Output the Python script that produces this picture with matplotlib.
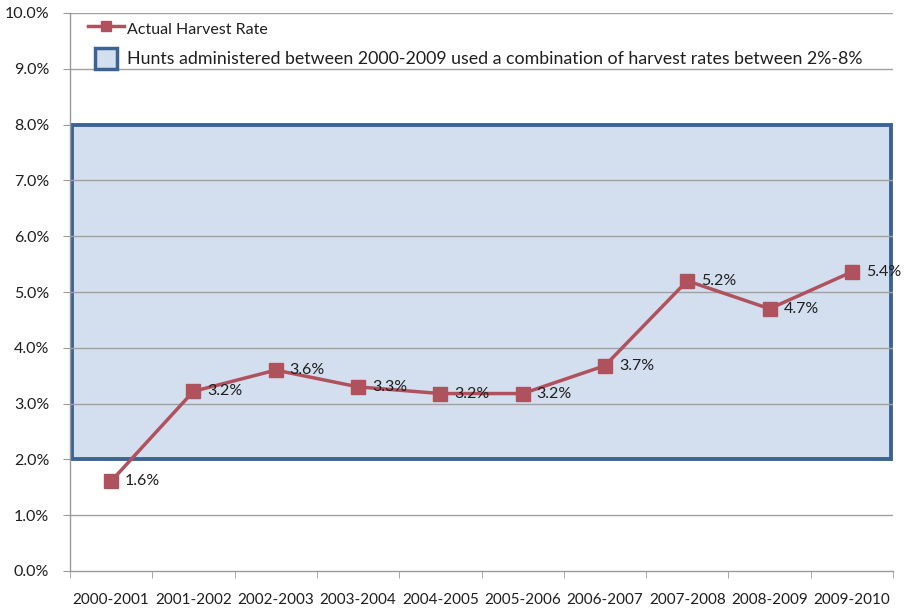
import matplotlib
matplotlib.use("Agg")
import matplotlib.pyplot as plt
import matplotlib.transforms as mtransforms
from matplotlib.patches import Rectangle, Patch
from matplotlib.lines import Line2D
from matplotlib.legend_handler import HandlerPatch
from matplotlib.ticker import FixedLocator, PercentFormatter

plt.rcParams['font.family'] = ['Lato', 'DejaVu Sans']

seasons = ["2000-2001", "2001-2002", "2002-2003", "2003-2004", "2004-2005",
           "2005-2006", "2006-2007", "2007-2008", "2008-2009", "2009-2010"]
harvest_rate = [1.6, 3.2, 3.6, 3.3, 3.2, 3.2, 3.7, 5.2, 4.7, 5.4]
plotted_rate = [1.61, 3.22, 3.6, 3.3, 3.18, 3.18, 3.68, 5.2, 4.7, 5.36]
range_low, range_high = 2.0, 8.0

line_color = "#B0525E"
box_edge = "#3D6394"
box_fill = "#D3DFEE"
text_color = "#1F1F1F"

fig = plt.figure(figsize=(9.07, 6.12), dpi=100)
ax = fig.add_axes([70 / 907, 1 - 571 / 612, 823 / 907, 558 / 612])

x = list(range(len(seasons)))
ax.set_xlim(-0.5, len(seasons) - 0.5)
ax.set_ylim(0, 10)

# gridlines
for yv in range(1, 11):
    ax.axhline(yv, color="#A0A0A0", lw=1.0, zorder=3 if range_low < yv < range_high else 1)

# administered harvest range box
trans = mtransforms.blended_transform_factory(ax.transAxes, ax.transData)
ax.add_patch(Rectangle((0.003, range_low), 0.994, range_high - range_low, transform=trans,
                       facecolor=box_fill, edgecolor=box_edge, lw=2.8, zorder=2))

ax.plot(x, plotted_rate, color=line_color, lw=2.5, marker="s", markersize=10,
        markerfacecolor=line_color, markeredgecolor=line_color, zorder=5)

for xi, yv, lab in zip(x, plotted_rate, harvest_rate):
    ax.annotate(f"{lab:.1f}%", (xi, yv), xytext=(10, 0), textcoords="offset points",
                ha="left", va="center", fontsize=11.5, color=text_color, zorder=6)

for s in ["top", "right"]:
    ax.spines[s].set_visible(False)
for s in ["left", "bottom"]:
    ax.spines[s].set_color("#999999")
    ax.spines[s].set_linewidth(1.0)

ax.yaxis.set_major_locator(FixedLocator(range(0, 11)))
ax.yaxis.set_major_formatter(PercentFormatter(decimals=1))
ax.tick_params(axis="y", length=5, color="#999999", labelsize=11.5, labelcolor=text_color, pad=10)

ax.set_xticks(x)
ax.set_xticklabels(seasons)
ax.tick_params(axis="x", which="major", length=0, labelsize=11, labelcolor=text_color, pad=16)
ax.xaxis.set_minor_locator(FixedLocator([i - 0.5 for i in range(len(seasons) + 1)]))
ax.tick_params(axis="x", which="minor", length=5, color="#999999")


def square_patch(legend, orig_handle, xdescent, ydescent, width, height, fontsize):
    side = height
    return Rectangle((-xdescent + (width - side * 1.08) / 2, -ydescent), side * 1.08, side)


handles = [
    Line2D([0], [0], color=line_color, lw=2.5, marker="s", markersize=7,
           markerfacecolor=line_color, markeredgecolor=line_color),
    Patch(facecolor=box_fill, edgecolor=box_edge, lw=2.5),
]
labels = ["Actual Harvest Rate",
          "Hunts administered between 2000-2009 used a combination of harvest rates between 2%-8%"]
leg = ax.legend(handles, labels, loc="upper left", bbox_to_anchor=(18 / 823, 1 - 5.5 / 558),
                frameon=False, fontsize=11.5, handlelength=2.25, handleheight=1.65,
                labelspacing=0.55, handletextpad=0.2, borderpad=0, borderaxespad=0,
                handler_map={Patch: HandlerPatch(patch_func=square_patch)})
for t in leg.get_texts():
    t.set_color(text_color)
leg.get_texts()[1].set_fontsize(12.8)

fig.savefig("out.png", dpi=100, facecolor="white")
